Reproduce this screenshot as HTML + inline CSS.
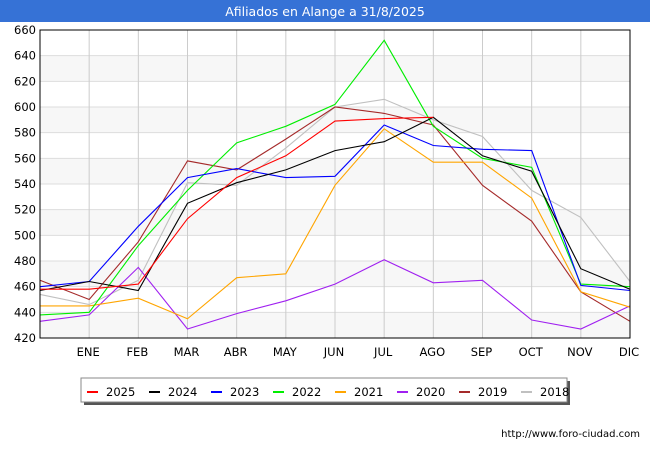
<!DOCTYPE html>
<html><head><meta charset="utf-8"><style>
body{margin:0;background:#fff;}
svg text{font-family:"DejaVu Sans","Liberation Sans",sans-serif;}
</style></head><body>
<svg width="650" height="450" viewBox="0 0 650 450">
<rect x="0" y="0" width="650" height="450" fill="#fff"/>
<rect x="0" y="0" width="650" height="22" fill="#3672d6"/>
<text x="325" y="16" text-anchor="middle" fill="#fff" font-size="12.5">Afiliados en Alange a 31/8/2025</text>
<g id="grid"></g>
<g id="series"></g>
<rect x="40" y="30" width="590" height="308" fill="none" stroke="#000" stroke-width="1"/>
<g id="axes"></g>
<rect x="84" y="381" width="486" height="24" fill="#555"/>
<rect x="81" y="378" width="486" height="24" fill="#fff" stroke="#888"/>
<g id="legend"></g>
<text x="640" y="437" text-anchor="end" font-size="10" fill="#000">http://www.foro-ciudad.com</text>
</svg>
<script>
const categories=["","ENE","FEB","MAR","ABR","MAY","JUN","JUL","AGO","SEP","OCT","NOV","DIC"];
const yTicks=[420,440,460,480,500,520,540,560,580,600,620,640,660];
const seriesNames=["2025","2024","2023","2022","2021","2020","2019","2018"];
const seriesColors=["#ff0000","#000000","#0000ff","#00ee00","#ffa500","#a020f0","#a52a2a","#c0c0c0"];
const s2025=[458,458,462,513,545,562,589,591,592];
const s2024=[457,464,457,525,541,551,566,573,592,562,550,474,458];
const s2023=[460,464,507,545,552,545,546,586,570,567,566,461,457];
const s2022=[438,440,492,535,572,585,602,652,585,560,553,462,460];
const s2021=[445,445,451,435,467,470,539,583,557,557,529,456,444];
const s2020=[433,438,475,427,439,449,462,481,463,465,434,427,445];
const s2019=[465,450,495,558,551,575,600,595,586,539,511,456,433];
const s2018=[454,446,465,541,539,568,600,606,590,577,535,514,464];
const allSeries=[s2025,s2024,s2023,s2022,s2021,s2020,s2019,s2018];
const NS="http://www.w3.org/2000/svg";
const X0=40,X1=630,Y0=30,Y1=338,VMIN=420,VMAX=660;
function x(i){return X0+i*(X1-X0)/(categories.length-1);}
function y(v){return Y1-(v-VMIN)*(Y1-Y0)/(VMAX-VMIN);}
function mk(t,a,p){const e=document.createElementNS(NS,t);for(const k in a)e.setAttribute(k,a[k]);p.appendChild(e);return e;}
const grid=document.getElementById('grid'),axes=document.getElementById('axes'),ser=document.getElementById('series'),leg=document.getElementById('legend');
for(let k=0;k<yTicks.length-1;k++){
  if(k%2===0){const b=mk('rect',{x:X0,y:y(yTicks[k+1]),width:X1-X0,height:y(yTicks[k])-y(yTicks[k+1]),fill:'#f7f7f7'},grid);
  
  }
}
yTicks.forEach(v=>{
  const l=mk('line',{x1:X0,x2:X1,y1:y(v),y2:y(v),stroke:'#ddd'},grid);
  
  
  const t=mk('text',{x:X0-4,y:y(v)+4,'text-anchor':'end','font-size':'11.5',fill:'#000'},axes);
  t.textContent=v;
  
  
});
categories.forEach((c,i)=>{
  const l=mk('line',{x1:x(i),x2:x(i),y1:Y0,y2:Y1,stroke:'#ccc'},grid);
  
  
  if(c){const t=mk('text',{x:x(i)-1,y:Y1+18,'text-anchor':'middle','font-size':'11.5',fill:'#000'},axes);
  t.textContent=c;
  
  }
});
for(let s=allSeries.length-1;s>=0;s--){
  const d=allSeries[s].map((v,i)=>(i?'L':'M')+x(i).toFixed(1)+','+y(v).toFixed(1)).join('');
  const p=mk('path',{d:d,fill:'none',stroke:seriesColors[s],'stroke-width':'1.1'},ser);
  
  
}
seriesNames.forEach((n,i)=>{
  const g=mk('g',{},leg);
  
  
  const lx=87+i*62;
  mk('line',{x1:lx,x2:lx+11,y1:392,y2:392,stroke:seriesColors[i],'stroke-width':'2'},g);
  const t=mk('text',{x:lx+19,y:396,'font-size':'11.5',fill:'#000'},g);
  t.textContent=n;
});
</script>
</body></html>
